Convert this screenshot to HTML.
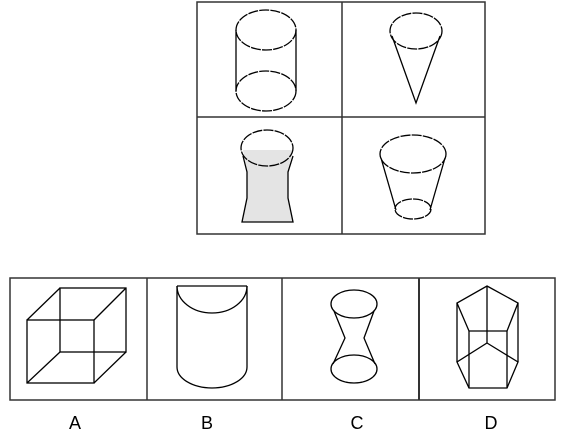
<!DOCTYPE html>
<html><head><meta charset="utf-8"><style>
html,body{margin:0;padding:0;background:#fff;}
svg{display:block;}
text{font-family:"Liberation Sans",sans-serif;font-size:18px;fill:#000;}
</style></head><body>
<svg width="562" height="432" viewBox="0 0 562 432" fill="none" stroke="#000" stroke-width="1.3">
<g>
<rect x="197" y="2" width="288" height="232" stroke="#333" stroke-width="1.5"/>
<line x1="342" y1="2" x2="342" y2="234" stroke="#333" stroke-width="1.5"/>
<line x1="197" y1="117" x2="485" y2="117" stroke="#333" stroke-width="1.5"/>
</g>
<g stroke-dasharray="10,1.2">
<ellipse cx="266" cy="30" rx="30" ry="20"/>
<ellipse cx="266" cy="91" rx="30" ry="20"/>
<line x1="236" y1="30" x2="236" y2="91" stroke-dasharray="none"/>
<line x1="296" y1="30" x2="296" y2="91" stroke-dasharray="none"/>
</g>
<g stroke-dasharray="10,1.2">
<ellipse cx="416" cy="31" rx="26" ry="18"/>
<polyline points="392,36 416,103 440,36" stroke-dasharray="none"/>
</g>
<g>
<path d="M243,150 L293,150 L288,170 L288,200 L293,222 L242,222 L247,200 L247,170 Z" fill="#e4e4e4" stroke="none"/>
<polyline points="243,156 247,172 247,198 242,222 293,222 288,198 288,172 293,156"/>
<ellipse cx="267" cy="148" rx="26" ry="18" stroke-dasharray="10,1.2"/>
</g>
<g stroke-dasharray="10,1.2">
<ellipse cx="413" cy="154" rx="33" ry="19"/>
<ellipse cx="413" cy="209" rx="18" ry="10"/>
<line x1="381" y1="158" x2="396" y2="210" stroke-dasharray="none"/>
<line x1="445" y1="158" x2="430" y2="210" stroke-dasharray="none"/>
</g>
<g>
<rect x="10" y="278" width="545" height="122" stroke="#333" stroke-width="1.5"/>
<line x1="147" y1="278" x2="147" y2="400" stroke="#333" stroke-width="1.5"/>
<line x1="282" y1="278" x2="282" y2="400" stroke="#333" stroke-width="1.5"/>
<line x1="419" y1="278" x2="419" y2="400" stroke="#333" stroke-width="2"/>
</g>
<g>
<rect x="27" y="320" width="67" height="63"/>
<rect x="60" y="288" width="66" height="64"/>
<line x1="27" y1="320" x2="60" y2="288"/><line x1="94" y1="320" x2="126" y2="288"/>
<line x1="27" y1="383" x2="60" y2="352"/><line x1="94" y1="383" x2="126" y2="352"/>
</g>
<g>
<line x1="177" y1="286" x2="247" y2="286"/>
<path d="M177,286 A35,27 0 0 0 247,286"/>
<line x1="177" y1="286" x2="177" y2="367"/><line x1="247" y1="286" x2="247" y2="367"/>
<path d="M177,367 A35,21 0 0 0 247,367"/>
</g>
<g>
<ellipse cx="354" cy="304" rx="23" ry="14"/>
<ellipse cx="354" cy="369" rx="23" ry="14"/>
<polyline points="334,311 345,338 333,364"/>
<polyline points="374,311 364,338 375,364"/>
</g>
<g>
<polygon points="487,286 518,303 507,331 469,331 457,303"/>
<polygon points="487,343 518,362 507,388 469,388 457,362"/>
<line x1="487" y1="286" x2="487" y2="343"/><line x1="518" y1="303" x2="518" y2="362"/>
<line x1="507" y1="331" x2="507" y2="388"/><line x1="469" y1="331" x2="469" y2="388"/>
<line x1="457" y1="303" x2="457" y2="362"/>
</g>
<g stroke="none">
<text x="75" y="429" text-anchor="middle">A</text>
<text x="207" y="429" text-anchor="middle">B</text>
<text x="357" y="429" text-anchor="middle">C</text>
<text x="491" y="429" text-anchor="middle">D</text>
</g>
</svg>
</body></html>
